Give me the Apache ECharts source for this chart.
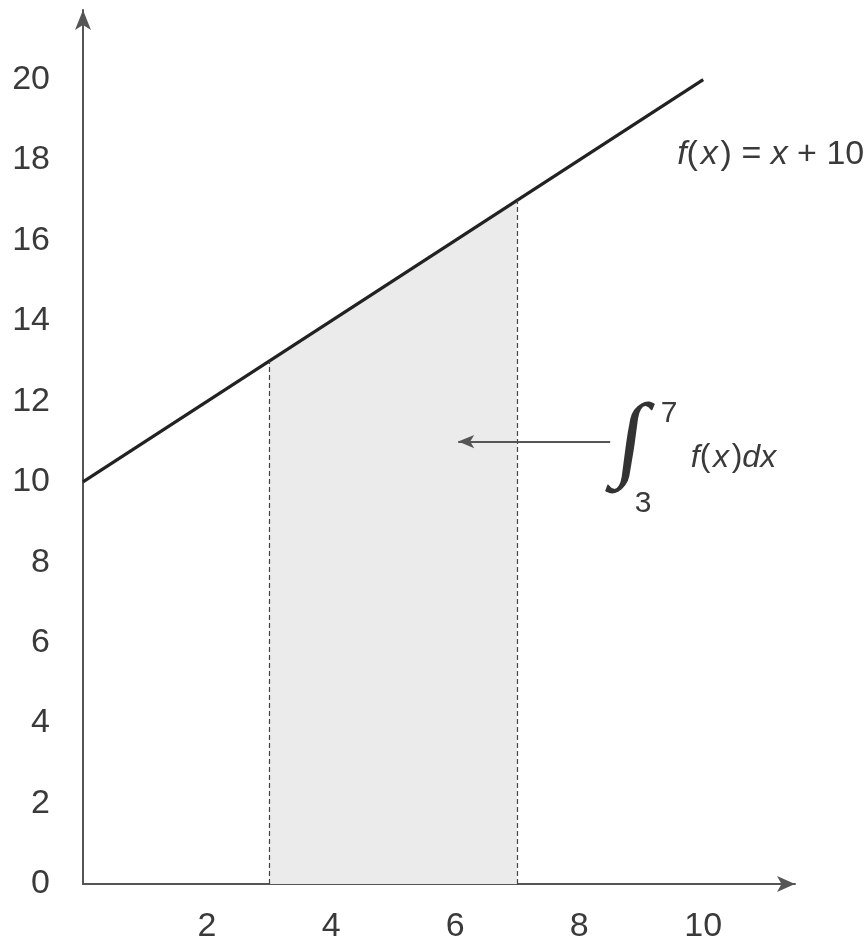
<!DOCTYPE html>
<html>
<head>
<meta charset="utf-8">
<script src="https://cdn.jsdelivr.net/npm/echarts@6/dist/echarts.min.js"></script>
<style>
html,body{margin:0;padding:0;background:#fff;}
#main{width:867px;height:944px;}
</style>
</head>
<body>
<div id="main"></div>
<script>
// f(x) = x + 10, sampled at the ends
var lineX = [0, 10];
var lineY = [10, 20];
// shaded interval [3, 7]
var areaX = [3, 7];
var areaY = [13, 17];
var xTicks = [2, 4, 6, 8, 10];
var yTicks = [0, 2, 4, 6, 8, 10, 12, 14, 16, 18, 20];

var txt = '#3a3a3a';
var font = 'Liberation Sans, Arial, sans-serif';

function pairs(xs, ys){
	var out = [];
	for(var i=0;i<xs.length;i++){
		out.push([xs[i], ys[i]]);
	}
	return out;
}

var dashed = [];
for(var i=0;i<areaX.length;i++){
	dashed.push([{coord:[areaX[i], 0]}, {coord:[areaX[i], areaY[i]]}]);
}

var myChart = echarts.init(document.getElementById('main'));
var option = {
	animation: false,
	backgroundColor: '#fff',
	grid: {left: 83, right: 72, top: 10, bottom: 57, containLabel: false},
	xAxis: {
		type: 'value',
		min: 0,
		max: 11.48,
		interval: 2,
		splitLine: {show: false},
		axisTick: {show: false},
		axisLine: {
			onZero: false,
			symbol: ['none', 'arrow'],
			symbolSize: [12, 18],
			lineStyle: {color: '#555', width: 2}
		},
		axisLabel: {
			margin: 26,
			fontSize: 34,
			fontFamily: font,
			color: txt,
			showMinLabel: false,
			showMaxLabel: false,
			formatter: function(v){ return xTicks.indexOf(v) >= 0 ? String(v) : ''; }
		}
	},
	yAxis: {
		type: 'value',
		min: 0,
		max: 21.73,
		interval: 2,
		splitLine: {show: false},
		axisTick: {show: false},
		axisLine: {
			show: true,
			symbol: ['none', 'arrow'],
			symbolSize: [12, 20],
			lineStyle: {color: '#555', width: 2}
		},
		axisLabel: {
			margin: 33,
			fontSize: 34,
			fontFamily: font,
			color: txt,
			showMaxLabel: false,
			formatter: function(v){ return yTicks.indexOf(v) >= 0 ? String(v) : ''; }
		}
	},
	series: [
		{
			name: 'area',
			type: 'line',
			data: pairs(areaX, areaY),
			symbol: 'none',
			lineStyle: {width: 0},
			areaStyle: {color: '#ebebeb', opacity: 1},
			markLine: {
				silent: true,
				symbol: 'none',
				label: {show: false},
				lineStyle: {color: '#444', width: 1.2, type: [5, 3]},
				data: dashed
			},
			z: 1
		},
		{
			name: 'f(x)',
			type: 'line',
			data: pairs(lineX, lineY),
			symbol: 'none',
			lineStyle: {color: '#222', width: 3.2},
			markLine: {
				silent: true,
				symbol: ['none', 'arrow'],
				symbolSize: [10, 16],
				label: {show: false},
				lineStyle: {color: '#555', width: 2, type: 'solid'},
				data: [[{coord:[8.5, 11]}, {coord:[6.05, 11]}]]
			},
			z: 3
		}
	]
};
myChart.setOption(option);

function px(x, y){
	return myChart.convertToPixel({gridIndex: 0}, [x, y]);
}
var pF = px(9.58, 18.14);
var pArea = px(5, 6.5);
var pInt = px(8.83, 10.95);
var pUp = px(9.45, 11.7);
var pLow = px(9.03, 9.45);
var pFdx = px(9.8, 10.6);

myChart.setOption({
	graphic: [
		{
			type: 'text', x: pF[0], y: pF[1],
			style: {
				text: '{i|f}(\u200a{i|x}\u200a) = {i|x} + 10',
				fill: txt, font: '34px ' + font, verticalAlign: 'middle',
				rich: {i: {fontStyle: 'italic', fontSize: 34, fontFamily: font, fill: txt}}
			}
		},
		{
			type: 'text', x: pArea[0], y: pArea[1],
			style: {
				text: 'Area under\nthe function', fill: txt, font: '34px ' + font,
				align: 'center', verticalAlign: 'middle', lineHeight: 43
			}
		},
		{
			type: 'text', x: pInt[0], y: pInt[1], rotation: -0.14,
			style: {
				text: '\u222B', fill: '#333', font: 'italic 98px Liberation Serif',
				align: 'center', verticalAlign: 'middle'
			}
		},
		{
			type: 'text', x: pUp[0], y: pUp[1],
			style: {text: '7', fill: txt, font: '30px ' + font, align: 'center', verticalAlign: 'middle'}
		},
		{
			type: 'text', x: pLow[0], y: pLow[1],
			style: {text: '3', fill: txt, font: '30px ' + font, align: 'center', verticalAlign: 'middle'}
		},
		{
			type: 'text', x: pFdx[0], y: pFdx[1],
			style: {
				text: '{i|f}(\u200a{i|x}\u200a){i|dx}', fill: txt, font: '32px ' + font, verticalAlign: 'middle',
				rich: {i: {fontStyle: 'italic', fontSize: 32, fontFamily: font, fill: txt}}
			}
		}
	]
});
</script>
</body>
</html>
